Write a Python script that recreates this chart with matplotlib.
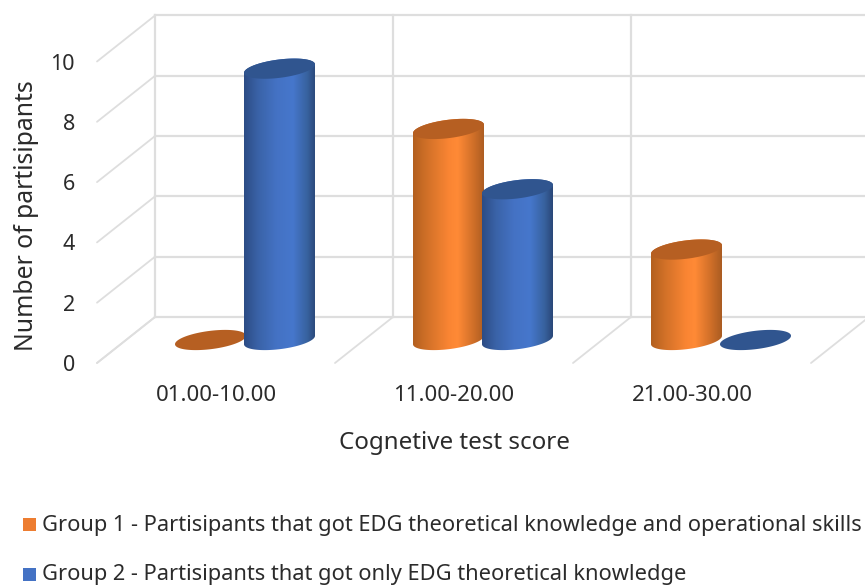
import numpy as np
import matplotlib
matplotlib.use("Agg")
import matplotlib.pyplot as plt
from matplotlib.colors import LinearSegmentedColormap
from matplotlib.patches import Polygon

categories = ["01.00-10.00", "11.00-20.00", "21.00-30.00"]
group1 = [0, 7, 3]
group2 = [9, 5, 0]
y_ticks = [0, 2, 4, 6, 8, 10]
label1 = "Group 1 - Partisipants that got EDG theoretical knowledge and operational skills"
label2 = "Group 2 - Partisipants that got only EDG theoretical knowledge"
x_title = "Cognetive test score"
y_title = "Number of partisipants"

W, H = 865, 588
PX_X = 238.0    # px per category
PX_Y = 30.15    # px per value unit
X0, Y0 = 245.0, 340.0  # px of category 0, value 0 at mid depth
DX = 29.0 / PX_X  # half depth offset, data units
DY = 23.0 / PX_Y
GRID = "#DEDEDE"
TXT = "#2B2B2B"
FONT = "Noto Sans"
plt.rcParams["font.family"] = FONT

fig = plt.figure(figsize=(W / 100, H / 100), dpi=100)
ax = fig.add_axes([0, 0, 1, 1])
ax.axis("off")
xlim = (-X0 / PX_X, (W - X0) / PX_X)
ylim = ((Y0 - H) / PX_Y, Y0 / PX_Y)

# ---- walls and floor
n = len(categories)
xl = -0.5
xr = xlim[1] + 1
for v in y_ticks:
    ax.plot([xl - DX, xl + DX], [v - DY, v + DY], color=GRID, lw=1.3, zorder=1, solid_capstyle="round")
    ax.plot([xl + DX, xr], [v + DY, v + DY], color=GRID, lw=1.6, zorder=1)
for i in range(n + 1):
    b = i - 0.5
    ax.plot([b - DX, b + DX], [-DY, DY], color=GRID, lw=1.3, zorder=1, solid_capstyle="round")
    if i < n:
        ax.plot([b + DX, b + DX], [DY, y_ticks[-1] + DY], color=GRID, lw=1.6, zorder=1)

# ---- cylinders
BAR_W = 71.0 / PX_X
A = BAR_W / 2
B = 9.2 / PX_Y
S = 4.2 / PX_Y
t = np.linspace(0, 2 * np.pi, 181)


def ell(cx, cy, tt):
    return cx + A * np.cos(tt), cy + B * np.sin(tt) + S * np.cos(tt)


def cylinder(cx, v, body_cmap, top_col, z):
    if v > 0:
        lower = np.linspace(np.pi, 2 * np.pi, 91)
        bx, by = ell(cx, 0, lower)
        upper = np.linspace(0, np.pi, 91)
        tx, ty = ell(cx, v, upper)
        poly = Polygon(np.column_stack([np.r_[bx, tx], np.r_[by, ty]]),
                       transform=ax.transData, facecolor="none", edgecolor="none")
        ax.add_patch(poly)
        im = ax.imshow(np.linspace(0, 1, 256)[None, :], cmap=body_cmap, aspect="auto",
                       extent=(cx - A, cx + A, -1, v + 1), zorder=z, interpolation="bilinear")
        im.set_clip_path(poly)
    x, y = ell(cx, v, t)
    ax.fill(x, y, color=top_col, lw=0, zorder=z + 0.1)


orange = LinearSegmentedColormap.from_list("o", [(0, "#B3601F"), (0.2, "#D27128"), (0.5, "#FA8533"),
                                                 (0.62, "#FF8A36"), (0.85, "#CE6E28"), (1, "#AA5C22")])
blue = LinearSegmentedColormap.from_list("b", [(0, "#2C4C85"), (0.2, "#3A63A8"), (0.45, "#4472C4"),
                                               (0.68, "#4677CC"), (0.88, "#38629F"), (1, "#2A4778")])
OFF = 34.5 / PX_X
for i in range(n):
    cylinder(i - OFF, group1[i], orange, "#B65F22", 4 if group1[i] > 0 else 2)
    cylinder(i + OFF, group2[i], blue, "#30558F", 5 if group2[i] > 0 else 2)

# ---- tick labels and titles
for v in y_ticks:
    ax.text((75 - X0) / PX_X, v - 25.5 / PX_Y, str(v), ha="right", va="center",
            fontsize=15.5, color=TXT)
for i, c in enumerate(categories):
    ax.text(i - DX, -55.5 / PX_Y, c, ha="center", va="center", fontsize=16, color=TXT)
ax.text((454 - X0) / PX_X, (Y0 - 443) / PX_Y, x_title, ha="center", va="center",
        fontsize=17.4, color=TXT)
ax.text((27 - X0) / PX_X, (Y0 - 215.5) / PX_Y, y_title, ha="center", va="center",
        rotation=90, fontsize=17.8, color=TXT)

# ---- legend
for lab, col, py_txt, py_box in [(label1, "#ED7D31", 525.5, 524.5), (label2, "#4472C4", 574.5, 574.5)]:
    fig.patches.append(plt.Rectangle((23 / W, 1 - (py_box + 6.5) / H), 13 / W, 13 / H,
                                     transform=fig.transFigure, facecolor=col, edgecolor="none"))
    fig.text(42 / W, 1 - py_txt / H, lab, ha="left", va="center", fontsize=15.7, color=TXT)

ax.set_xlim(*xlim)
ax.set_ylim(*ylim)
fig.savefig("out.png", dpi=100)
